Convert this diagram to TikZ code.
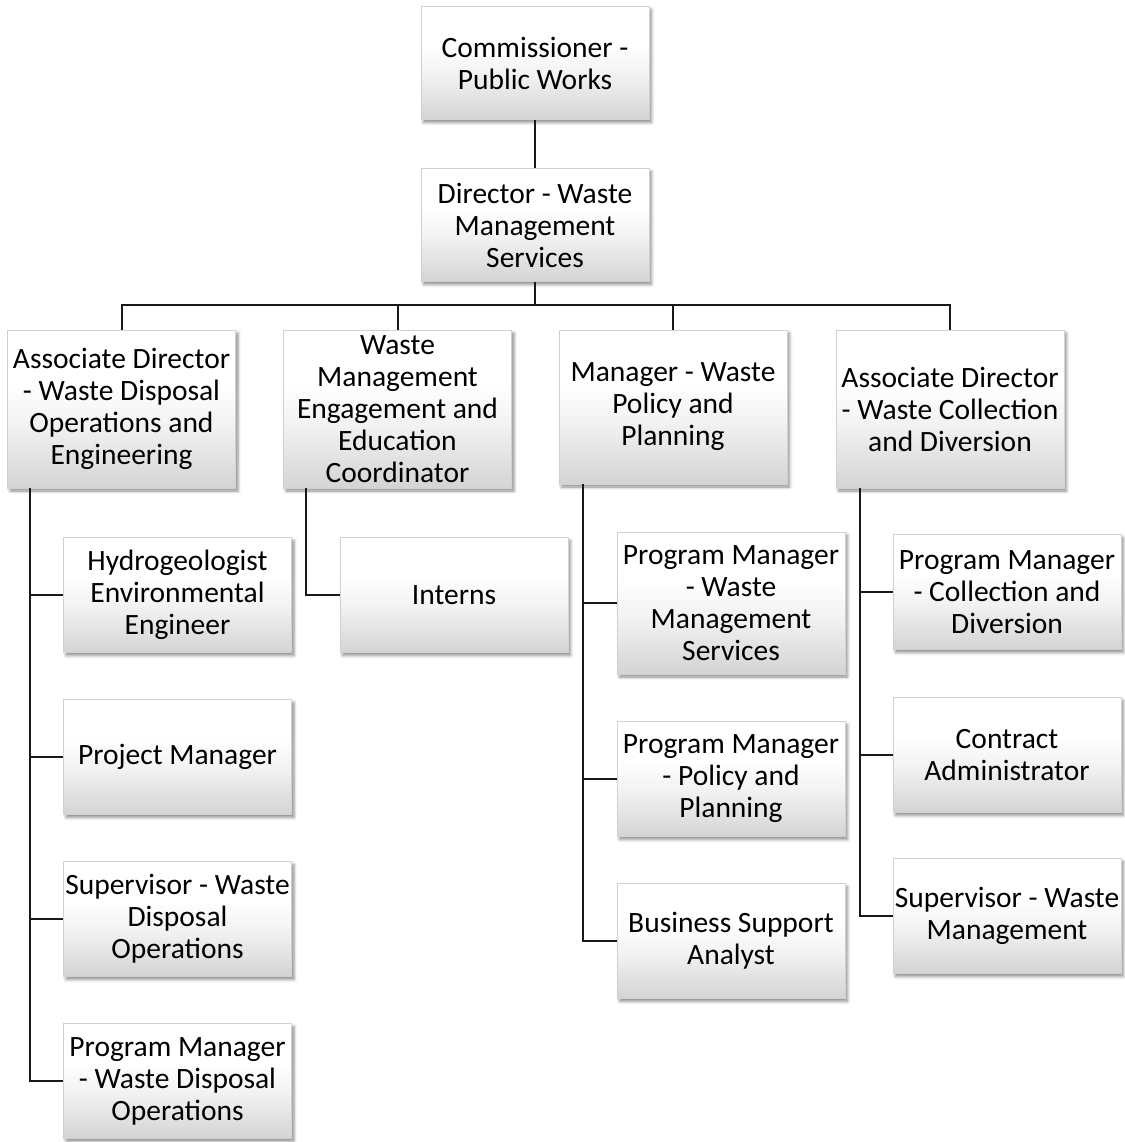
\documentclass[tikz,border=0pt]{standalone}
\usepackage{fontspec}
\setmainfont{Carlito}
\usetikzlibrary{shadows.blur}
% white at the top, fading to light grey near the bottom edge
\pgfdeclareverticalshading{boxfade}{100bp}{color(0bp)=(black!17); color(25bp)=(black!17);
  color(45bp)=(black!5); color(58bp)=(white); color(100bp)=(white)}
\begin{document}
\begin{tikzpicture}[x=1pt,y=-1pt,
  orgbox/.style={draw=black!18, line width=0.8pt, inner sep=0pt, align=center,
    shading=boxfade,
    blur shadow={shadow xshift=2.5pt, shadow yshift=-3pt, shadow blur radius=3pt, shadow opacity=45},
    font=\fontsize{29.5}{32}\selectfont},
  topbox/.style={orgbox, minimum width=228pt, minimum height=113pt},
  midbox/.style={orgbox, minimum width=228pt, minimum height=158pt},
  subbox/.style={orgbox, minimum width=228pt, minimum height=115pt},
  link/.style={line width=2pt, draw=black!90}]
\useasboundingbox (0,0) rectangle (1124,1142);

% top of the hierarchy
\node[topbox] (com) at (535,63) {Commissioner -\\Public Works};
\node[topbox] (dir) at (535,225) {Director - Waste\\Management\\Services};

% second level
\node[midbox] (adw) at (121.5,409) {Associate Director\\- Waste Disposal\\Operations and\\Engineering};
\node[midbox] (eng) at (397.5,409) {Waste\\Management\\Engagement and\\Education\\Coordinator};
\node[midbox, minimum height=154pt] (mgr) at (673,407) {Manager - Waste\\Policy and\\Planning};
\node[midbox] (adc) at (950,409) {Associate Director\\- Waste Collection\\and Diversion};

% disposal and engineering staff
\node[subbox] (hyd) at (177.5,595) {Hydrogeologist\\Environmental\\Engineer};
\node[subbox] (prj) at (177.5,757) {Project Manager};
\node[subbox] (sup) at (177.5,919) {Supervisor - Waste\\Disposal\\Operations};
\node[subbox] (pmd) at (177.5,1081) {Program Manager\\- Waste Disposal\\Operations};

% engagement staff
\node[subbox] (int) at (454,595) {Interns};

% policy and planning staff
\node[subbox, minimum height=142pt] (pmw) at (731,603) {Program Manager\\- Waste\\Management\\Services};
\node[subbox] (pmp) at (731,779) {Program Manager\\- Policy and\\Planning};
\node[subbox] (bsa) at (731,941) {Business Support\\Analyst};

% collection and diversion staff
\node[subbox] (pmc) at (1007,592) {Program Manager\\- Collection and\\Diversion};
\node[subbox] (cad) at (1007,755) {Contract\\Administrator};
\node[subbox] (swm) at (1007,916) {Supervisor - Waste\\Management};

% spine positions
\coordinate (bus) at (535,305);
\coordinate (s1) at (30,0);
\coordinate (s2) at (306,0);
\coordinate (s3) at (583,0);
\coordinate (s4) at (860,0);

% upper connectors
\draw[link] (com) -- (dir);
\draw[link] (dir.south) -- (bus);
\draw[link] (adw.north) |- (bus) -| (adc.north);
\draw[link] (eng.north) -- (eng.north |- bus);
\draw[link] (mgr.north) -- (mgr.north |- bus);

% column spines
\draw[link] (adw.south -| s1) |- (pmd.west);
\draw[link] (s1 |- hyd.west) -- (hyd.west);
\draw[link] (s1 |- prj.west) -- (prj.west);
\draw[link] (s1 |- sup.west) -- (sup.west);

\draw[link] (eng.south -| s2) |- (int.west);

\draw[link] (mgr.south -| s3) |- (bsa.west);
\draw[link] (s3 |- pmw.west) -- (pmw.west);
\draw[link] (s3 |- pmp.west) -- (pmp.west);

\draw[link] (adc.south -| s4) |- (swm.west);
\draw[link] (s4 |- pmc.west) -- (pmc.west);
\draw[link] (s4 |- cad.west) -- (cad.west);
\end{tikzpicture}
\end{document}
